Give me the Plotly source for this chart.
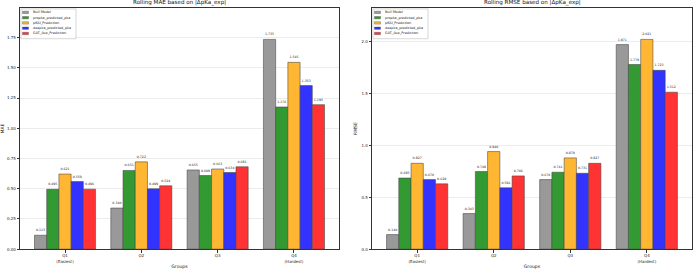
import plotly.graph_objects as go

groups = ["Q1<br>(Easiest)", "Q2", "Q3", "Q4<br>(Hardest)"]
series_names = ["Null Model", "propka_predicted_pka", "pKAI_Prediction",
                "deepka_predicted_pka", "GAT_Ave_Prediction"]
colors = ["rgb(153,153,153)", "rgb(51,153,51)", "rgb(255,183,51)",
          "rgb(51,51,255)", "rgb(255,51,51)"]

mae_null = [0.115, 0.340, 0.655, 1.735]
mae_propka = [0.495, 0.651, 0.609, 1.176]
mae_pkai = [0.621, 0.722, 0.663, 1.545]
mae_deepka = [0.559, 0.499, 0.634, 1.353]
mae_gat = [0.496, 0.524, 0.681, 1.195]

rmse_null = [0.140, 0.343, 0.670, 1.971]
rmse_propka = [0.685, 0.748, 0.741, 1.779]
rmse_pkai = [0.827, 0.940, 0.879, 2.021]
rmse_deepka = [0.670, 0.591, 0.731, 1.723]
rmse_gat = [0.629, 0.706, 0.827, 1.512]

mae_series = [mae_null, mae_propka, mae_pkai, mae_deepka, mae_gat]
rmse_series = [rmse_null, rmse_propka, rmse_pkai, rmse_deepka, rmse_gat]

W, H = 693, 271
FONT = "DejaVu Sans"
xpos = list(range(len(groups)))

# axes geometry in pixels
ax_top, ax_bot = 8, 251
left_x0, left_x1 = 20, 339
right_x0, right_x1 = 372, 692

fig = go.Figure()

panels = [
    dict(series=mae_series, xa="x", ya="y", legend="legend", title="Rolling MAE based on |ΔpKa_exp|",
         ylab="MAE", dtick=0.25, fmt=".2f", x0=left_x0, x1=left_x1),
    dict(series=rmse_series, xa="x2", ya="y2", legend="legend2", title="Rolling RMSE based on |ΔpKa_exp|",
         ylab="RMSE", dtick=0.5, fmt=".1f", x0=right_x0, x1=right_x1),
]

for p in panels:
    for name, vals, col in zip(series_names, p["series"], colors):
        fig.add_trace(go.Bar(
            x=xpos, y=vals, name=name, xaxis=p["xa"], yaxis=p["ya"],
            marker=dict(color=col, line=dict(color="rgba(70,70,70,0.7)", width=0.8)),
            text=[f"{v:.3f}" for v in vals], textposition="outside",
            textfont=dict(size=3.2, family=FONT, color="#222"),
            constraintext="none", cliponaxis=False, showlegend=False,
        ))

axis_common = dict(showline=True, linecolor="#333", linewidth=0.8, mirror=True,
                   ticks="outside", ticklen=2.5, tickwidth=0.6, tickcolor="#333",
                   tickfont=dict(size=4, family=FONT, color="#222"))

for i, p in enumerate(panels):
    suffix = "" if i == 0 else "2"
    ymax = max(max(s) for s in p["series"]) * 1.15
    fig.layout["xaxis" + suffix] = dict(
        domain=[p["x0"] / W, p["x1"] / W], anchor="y" + suffix,
        range=[-0.59, 3.59], tickvals=xpos, ticktext=groups, showgrid=False,
        title=dict(text="Groups", font=dict(size=4.6, family=FONT, color="#222"), standoff=2),
        **axis_common)
    fig.layout["yaxis" + suffix] = dict(
        domain=[1 - ax_bot / H, 1 - ax_top / H], anchor="x" + suffix,
        range=[0, ymax], dtick=p["dtick"], tickformat=p["fmt"],
        showgrid=True, gridcolor="rgba(200,200,200,0.35)", gridwidth=0.6, zeroline=False,
        title=dict(text=p["ylab"], font=dict(size=4.6, family=FONT, color="#222"), standoff=3),
        **axis_common)

    xd, yd = p["xa"] + " domain", p["ya"] + " domain"
    aw = p["x1"] - p["x0"]
    ah = ax_bot - ax_top
    # title
    fig.add_annotation(text=p["title"], xref=xd, yref=yd, x=0.5, y=1, yanchor="bottom",
                       showarrow=False, yshift=0, font=dict(size=5.6, family=FONT, color="#111"))
    # manual legend (upper left)
    bx0, bx1 = 1 / aw, 56 / aw
    by1, by0 = 1 - 1 / ah, 1 - 31 / ah
    fig.add_shape(type="rect", xref=xd, yref=yd, x0=bx0, x1=bx1, y0=by0, y1=by1,
                  line=dict(color="rgba(180,180,180,0.9)", width=0.6), fillcolor="rgba(255,255,255,0.85)")
    for k, (name, col) in enumerate(zip(series_names, colors)):
        yc = 1 - (4.5 + 5.3 * k) / ah
        fig.add_shape(type="rect", xref=xd, yref=yd, x0=2.5 / aw, x1=8.5 / aw,
                      y0=yc - 1.2 / ah, y1=yc + 1.2 / ah, fillcolor=col,
                      line=dict(color="rgba(70,70,70,0.7)", width=0.5))
        fig.add_annotation(text=name, xref=xd, yref=yd, x=10.5 / aw, y=yc, xanchor="left",
                           yanchor="middle", showarrow=False,
                           font=dict(size=3.4, family=FONT, color="#222"))

fig.update_layout(width=W, height=H, margin=dict(l=0, r=0, t=0, b=0),
                  plot_bgcolor="white", paper_bgcolor="white",
                  barmode="group", bargap=0.2, bargroupgap=0, showlegend=False,
                  font=dict(family=FONT))

fig.write_html("out.html")
